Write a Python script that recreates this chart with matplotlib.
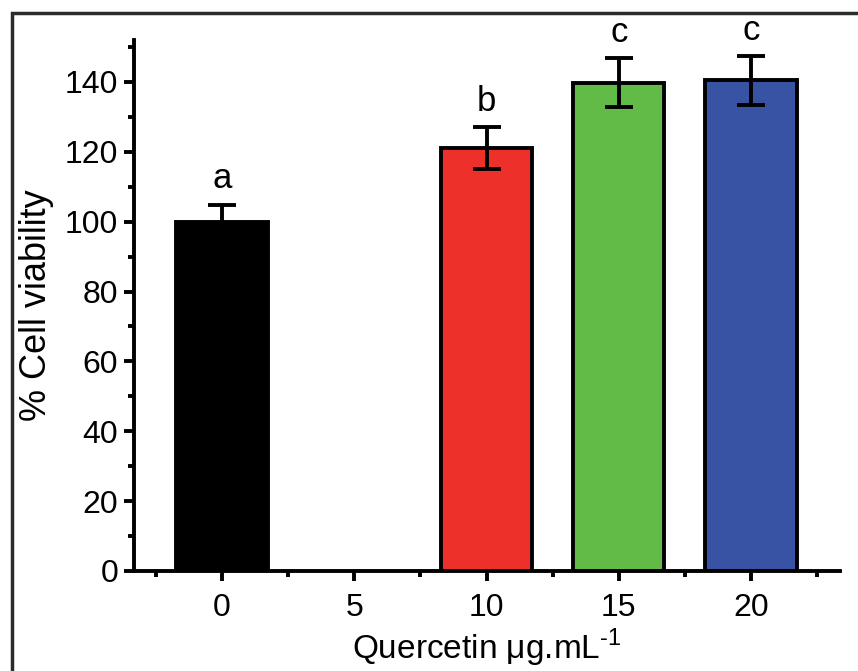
import matplotlib
matplotlib.use("Agg")
import matplotlib.pyplot as plt
from matplotlib.patches import Rectangle
from matplotlib.ticker import MultipleLocator

plt.rcParams['font.family'] = ['Liberation Sans', 'DejaVu Sans']
plt.rcParams['mathtext.fontset'] = 'custom'
plt.rcParams['mathtext.rm'] = 'Liberation Sans'

concentrations = [0, 10, 15, 20]
viability = [100, 121, 139.8, 140.5]
errors = [4.9, 6, 7.1, 7]
letters = ['a', 'b', 'c', 'c']
colors = ['#000000', '#EE302A', '#62BB46', '#3853A4']
xticks = [0, 5, 10, 15, 20]

fig = plt.figure(figsize=(8.58, 6.71), dpi=100)
# outer frame
fig.patches.append(Rectangle((12/858, -0.05), 1.2, (671-13)/671 + 0.05,
                             transform=fig.transFigure, fill=False,
                             edgecolor='#2b2b2b', linewidth=2.5))
ax = fig.add_axes([134/858, (671-571)/671, (840-134)/858, (571-40)/671])

ax.bar(concentrations, viability, width=3.45, color=colors, edgecolor='black',
       linewidth=2.8, zorder=2)
ax.errorbar(concentrations, viability, yerr=errors, fmt='none', ecolor='black',
            elinewidth=2.8, capsize=10, capthick=2.8, zorder=3)
for x, v, e, l in zip(concentrations, viability, errors, letters):
    ax.text(x, v + e + 4.6, l, ha='center', va='baseline', fontsize=25, clip_on=False)

ax.set_xlim(-3.33, 23.36)
ax.set_ylim(0, 152)
ax.set_xticks(xticks)
ax.xaxis.set_minor_locator(MultipleLocator(2.5))
ax.yaxis.set_major_locator(MultipleLocator(20))
ax.yaxis.set_minor_locator(MultipleLocator(10))
for s in ['top', 'right']:
    ax.spines[s].set_visible(False)
for s in ['left', 'bottom']:
    ax.spines[s].set_linewidth(2.8)
ax.tick_params(which='major', direction='out', length=7.5, width=2.8, labelsize=23)
ax.tick_params(axis='x', which='major', pad=8)
ax.tick_params(axis='y', which='major', pad=4)
ax.tick_params(which='minor', direction='out', length=4.5, width=2.8)
ax.set_ylabel('% Cell viability', fontsize=26, labelpad=8)
ax.set_xlabel('Quercetin μg.mL$^{\\text{-1}}$', fontsize=24, labelpad=3)

fig.savefig('out.png', dpi=100)
